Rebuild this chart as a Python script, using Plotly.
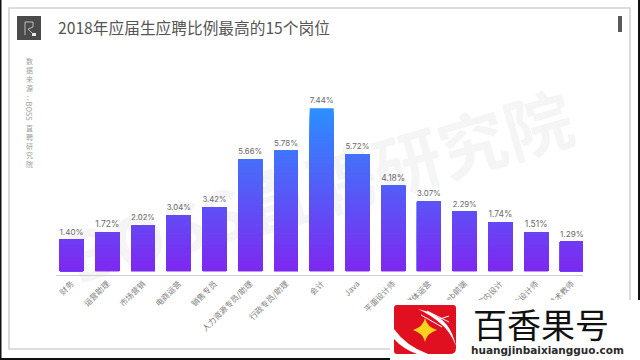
import plotly.graph_objects as go

categories = ["财务", "运营助理", "市场营销", "电商运营", "销售专员", "人力资源专员/助理", "行政专员/助理",
              "会计", "Java", "平面设计师", "新媒体运营", "web前端", "室内设计", "工业设计师", "美术教师"]
# printed labels of the reference
value_labels = ["1.40%", "1.72%", "2.02%", "3.04%", "3.42%", "5.66%", "5.78%", "7.44%",
                "5.72%", "4.18%", "3.07%", "2.29%", "1.74%", "1.51%", "1.29%"]
# bar heights as drawn in the reference (they do not follow the printed labels strictly)
values = [1.44, 1.78, 2.10, 2.55, 2.92, 5.12, 5.50, 7.44, 5.34, 3.90, 3.19, 2.73, 2.22, 1.78, 1.35]
title_text = "2018年应届生应聘比例最高的15个岗位"

W, H = 640, 360
L, R, T, B = 56, 583, 96, 275
def X(px): return (px - L) / (R - L)
def Y(py): return (B - py) / (B - T)

CJK = "Noto Sans CJK SC"
LOW = (127, 40, 240)
HIGH = (43, 143, 255)
N = 50
top = max(values)

fig = go.Figure()
for k in range(N, 0, -1):
    lvl = top * k / N
    f = (k - 0.5) / N
    c = tuple(round(a + (b - a) * f) for a, b in zip(LOW, HIGH))
    first = k == N
    fig.add_trace(go.Bar(
        x=list(range(len(categories))),
        y=[min(v, lvl) for v in values],
        marker=dict(color="rgb(%d,%d,%d)" % c, line=dict(width=0)),
        width=0.67,
        text=value_labels if first else None,
        textposition="outside" if first else "none",
        textfont=dict(family="Inter, " + CJK, size=8.5, color="#6a6a6a"),
        cliponaxis=False,
        hoverinfo="skip",
        showlegend=False,
    ))

def rect(x0, y0, x1, y1, fill=None, line=None, lw=0, layer="above"):
    return dict(type="rect", xref="paper", yref="paper", x0=X(x0), x1=X(x1), y0=Y(y0), y1=Y(y1),
                fillcolor=fill or "rgba(0,0,0,0)", line=dict(color=line or "rgba(0,0,0,0)", width=lw), layer=layer)

def path(cmds, fill=None, line=None, lw=0):
    out = []
    for c in cmds:
        if isinstance(c, str):
            out.append(c)
        else:
            out.append(f"{X(c[0]):.5f},{Y(c[1]):.5f}")
    return dict(type="path", xref="paper", yref="paper", path=" ".join(out),
                fillcolor=fill or "rgba(0,0,0,0)", line=dict(color=line or "rgba(0,0,0,0)", width=lw), layer="above")

shapes = [
    rect(9, 8, 630, 349, line="#d2d2d2", lw=1.6, layer="below"),
    rect(0, 0, 1.5, 360, fill="#111111", layer="below"),
    rect(638, 0, 640, 360, fill="#111111", layer="below"),
    rect(0, 358, 640, 360, fill="#111111", layer="below"),
    dict(type="rect", xref="paper", yref="paper", x0=X(30), x1=X(614), y0=Y(120), y1=Y(270), layer="below",
         line=dict(width=0), fillcolor="rgba(0,0,0,0)",
         label=dict(text="BOSS直聘研究院", textangle=-16, textposition="middle center",
                    font=dict(family=CJK, size=68, color="#f5f5f5", weight=700))),
    rect(17, 16, 41, 40, fill="#4a4a4a"),
    path(["M", (25, 22), "L", (25, 35), "M", (25, 22), "L", (33, 22), "L", (33, 27), "L", (28, 29), "L", (33, 34)],
         line="#bdbdbd", lw=1),
    rect(32, 33, 36, 36, fill="#e8e8e8"),
    rect(618, 16, 622, 32, fill="#5a5a5a"),
    rect(390, 300, 640, 360, fill="#ffffff"),
    path(["M", (397, 305), "L", (453, 305), "Q", (456, 305), (456, 308), "L", (456, 348), "Q", (456, 354), (450, 354),
          "L", (428, 354), "Q", (406, 346), (394, 329), "L", (394, 308), "Q", (394, 305), (397, 305), "Z"], fill="#e01020"),
    path(["M", (394, 339), "L", (394, 351), "Q", (394, 354), (397, 354), "L", (417, 354), "Q", (403, 349), (394, 339), "Z"],
         fill="#e01020"),
    path(["M", (425, 318), "Q", (427, 327), (437, 330), "Q", (427, 333), (425, 342), "Q", (423, 333), (413, 330),
          "Q", (423, 327), (425, 318), "Z"], fill="#ffd21e"),
    path(["M", (418, 309), "Q", (437, 313), (447, 325), "Q", (453, 333), (456, 346), "Q", (450, 331), (441, 324),
          "Q", (431, 315), (418, 309), "Z"], fill="#ffffff"),
    path(["M", (421, 315), "L", (442, 327), "M", (427, 311), "L", (449, 322), "M", (440, 319), "L", (449, 316)],
         line="#ffffff", lw=1),
]

annotations = [
    dict(text=title_text, x=X(57), y=Y(28), xanchor="left", yanchor="middle",
         font=dict(family=CJK, size=15.7, color="#555555")),
    dict(text="<br>".join("数据来源："), x=X(29.5), y=Y(55), xanchor="center", yanchor="top",
         font=dict(family=CJK, size=7, color="#a0a0a0")),
    dict(text="BOSS", x=X(29.5), y=Y(111), xanchor="center", yanchor="middle", textangle=90,
         font=dict(family=CJK, size=7.5, color="#a0a0a0")),
    dict(text="<br>".join("直聘研究院"), x=X(29.5), y=Y(122), xanchor="center", yanchor="top",
         font=dict(family=CJK, size=7, color="#a0a0a0")),
    dict(text="百香果号", x=X(541), y=Y(323), xanchor="center", yanchor="middle",
         font=dict(family=CJK, size=34, color="#111111")),
    dict(text="<b>huangjinbaixiangguo.com</b>", x=X(547.5), y=Y(350), xanchor="center", yanchor="middle",
         font=dict(family="DejaVu Sans", size=10.5, color="#2a2a2a")),
]
for a in annotations:
    a.update(xref="paper", yref="paper", showarrow=False, borderpad=0)

fig.update_layout(
    width=W, height=H, autosize=False,
    margin=dict(l=L, r=W - R, t=T, b=H - B, pad=0),
    paper_bgcolor="#ffffff", plot_bgcolor="rgba(0,0,0,0)",
    barmode="overlay", showlegend=False,
    shapes=shapes, annotations=annotations,
    xaxis=dict(range=[-0.434, 14.31], tickmode="array", tickvals=list(range(len(categories))), ticktext=categories,
               tickangle=-45, tickfont=dict(family=CJK, size=8, color="#808080"),
               showline=True, linecolor="#cfcfcf", linewidth=1, showgrid=False, ticks="", zeroline=False),
    yaxis=dict(range=[-0.18, 8], visible=False, showgrid=False, zeroline=False),
)
fig.write_html("out.html", config=dict(displayModeBar=False),
               post_script="document.body.style.margin='0';document.body.style.overflow='hidden';")
